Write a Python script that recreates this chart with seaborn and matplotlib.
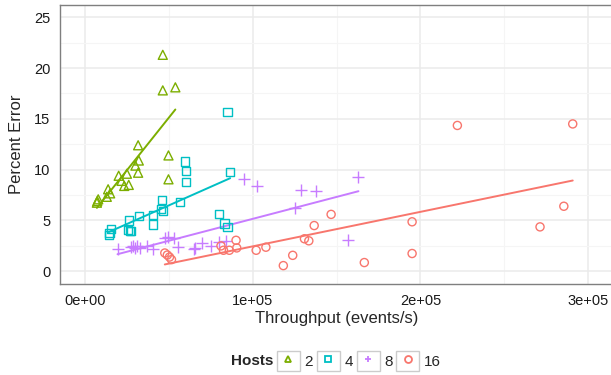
import matplotlib
matplotlib.use("Agg")
import matplotlib.pyplot as plt
import seaborn as sns
from matplotlib.lines import Line2D
from matplotlib.patches import Rectangle
from matplotlib.legend_handler import HandlerTuple
from matplotlib.ticker import FuncFormatter, MultipleLocator

# ==============================
# Data
# ==============================

hosts = ["2", "4", "8", "16"]

h2_x = [7000, 7200, 7800, 12900, 13700, 14900, 20000, 21700, 23300, 24900,
        26000, 30000, 32000, 31600, 31600, 46300, 46300, 53800, 49700, 49700]
h2_y = [6.75, 6.9, 7.08, 7.33, 8.07, 7.67, 9.4, 8.9, 8.4, 9.6,
        8.5, 10.4, 10.9, 12.4, 9.7, 21.3, 17.8, 18.1, 11.4, 9.05]

h4_x = [14100, 14500, 15300, 25800, 26800, 27200, 26400, 32000, 40700, 40700,
        45300, 46700, 46100, 56600, 59400, 60200, 60200, 79700, 83100, 84900,
        86500, 84900]
h4_y = [3.6, 3.75, 4.2, 4.1, 3.95, 4.0, 5.0, 5.45, 5.5, 4.6,
        6.1, 5.9, 7.0, 6.8, 10.8, 9.9, 8.8, 5.6, 4.7, 4.4,
        9.8, 15.7]

h8_x = [19300, 27200, 28500, 29500, 31000, 33000, 36800, 40700, 47500, 49500,
        53000, 55500, 64800, 65800, 69600, 75300, 79700, 84300, 94800, 102200,
        124900, 129000, 137700, 156800, 163000]
h8_y = [2.2, 2.4, 2.5, 2.3, 2.5, 2.3, 2.45, 2.2, 3.3, 3.4,
        3.3, 2.4, 2.2, 2.3, 2.8, 2.5, 2.9, 2.95, 9.1, 8.4,
        6.2, 8.0, 7.9, 3.1, 9.25]

h16_x = [47500, 49000, 50300, 51500, 81000, 82500, 86000, 90000, 90400, 102000,
         107800, 118200, 123800, 130800, 133400, 136600, 146700, 166500, 195000, 195000,
         222000, 271300, 285500, 290800]
h16_y = [1.8, 1.6, 1.4, 1.15, 2.5, 2.07, 2.07, 3.05, 2.3, 2.07,
         2.37, 0.56, 1.57, 3.2, 3.0, 4.5, 5.6, 0.86, 4.87, 1.75,
         14.35, 4.37, 6.4, 14.5]

series = {"2": (h2_x, h2_y), "4": (h4_x, h4_y), "8": (h8_x, h8_y), "16": (h16_x, h16_y)}

# ==============================
# Styling
# ==============================

colors = {"2": "#7CAE00", "4": "#00BFC4", "8": "#C77CFF", "16": "#F8766D"}
markers = {"2": "^", "4": "s", "8": "+", "16": "o"}
sizes = {"2": 42, "4": 34, "8": 70, "16": 34}

sns.set_style("white")
plt.rcParams["font.family"] = ["Liberation Sans", "DejaVu Sans"]

fig = plt.figure(figsize=(6.11, 3.75), dpi=100)
ax = fig.add_axes([60 / 611, 91 / 375, 553.3 / 611, 279.5 / 375])

# ==============================
# Points and fits
# ==============================

for h in hosts:
    xs, ys = series[h]
    c = colors[h]
    if markers[h] == "+":
        sns.scatterplot(x=xs, y=ys, marker="+", s=sizes[h], color=c,
                        linewidth=1.0, ax=ax, zorder=3)
    else:
        sns.scatterplot(x=xs, y=ys, marker=markers[h], s=sizes[h], color=c,
                        facecolor="none", edgecolor=c, linewidth=1.0, ax=ax, zorder=3)
    sns.regplot(x=xs, y=ys, scatter=False, ci=None, color=c, truncate=True,
                line_kws={"lw": 1.4, "zorder": 2}, ax=ax)

# ==============================
# Axes
# ==============================

ax.set_xlim(-15000, 315000)
ax.set_ylim(-1.25, 26.25)
ax.xaxis.set_major_locator(MultipleLocator(100000))
ax.xaxis.set_minor_locator(MultipleLocator(50000))
ax.yaxis.set_major_locator(MultipleLocator(5))
ax.yaxis.set_minor_locator(MultipleLocator(2.5))
ax.xaxis.set_major_formatter(FuncFormatter(lambda v, p: f"{v:.0e}"))

ax.grid(True, which="major", color="#ebebeb", lw=1.1, zorder=0)
ax.grid(True, which="minor", color="#f5f5f5", lw=0.8, zorder=0)
ax.set_axisbelow(True)

for s in ax.spines.values():
    s.set_color("#7f7f7f")
    s.set_linewidth(1.0)

ax.tick_params(which="major", direction="out", length=4, width=1.0,
               color="#222222", labelsize=10.5, labelcolor="#1a1a1a", pad=3)
ax.tick_params(which="minor", length=0)

ax.set_xlabel("Throughput (events/s)", fontsize=12, labelpad=2)
ax.set_ylabel("Percent Error", fontsize=12, labelpad=7)

# ==============================
# Legend
# ==============================

handles = []
for h in hosts:
    box = Rectangle((0, 0), 1, 1, facecolor="white", edgecolor="#cccccc", lw=1.0)
    mk = Line2D([], [], linestyle="none", marker=markers[h], markersize=5,
                markerfacecolor="none", markeredgecolor=colors[h], markeredgewidth=1.3,
                color=colors[h])
    handles.append((box, mk))

fig.text(231 / 611, 1 - 361 / 375, "Hosts", fontsize=11, fontweight="bold",
         va="center", ha="left")
fig.legend(handles, hosts, handler_map={tuple: HandlerTuple(ndivide=1, pad=0)},
           loc="center left", bbox_to_anchor=(277 / 611, 1 - 361 / 375), ncol=4,
           frameon=False, fontsize=11, handlelength=1.5, handleheight=1.6,
           handletextpad=0.3, columnspacing=0.25, borderpad=0, borderaxespad=0)

fig.savefig("out.png", dpi=100)
